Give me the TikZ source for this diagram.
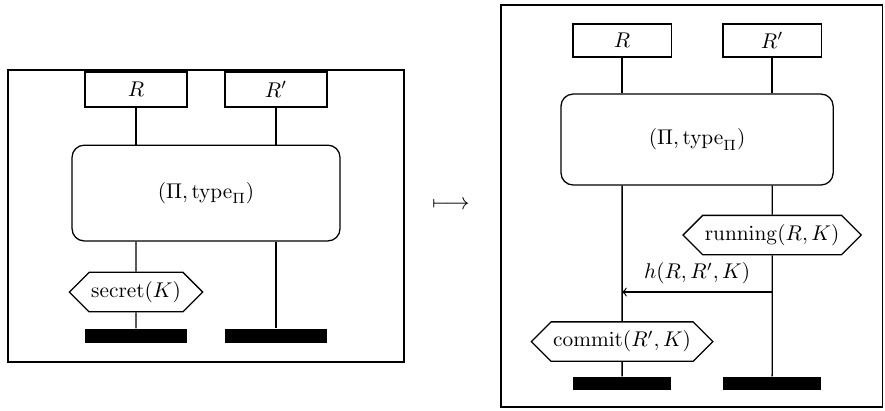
\documentclass[tikz,border=0pt]{standalone}
\usepackage{amsmath,amsfonts}
\usetikzlibrary{positioning, shapes.symbols, arrows}

\begin{document}
\begin{tikzpicture}[semithick,>=to,node distance=1cm]

	\tikzstyle{every node}=[font=\normalsize]

	\tikzstyle{role}=[rectangle,draw,minimum width=1.68cm,minimum height=0.58cm,inner sep=0pt]
	\tikzstyle{protocol}=[rectangle,draw,rounded corners=0.2cm,minimum width=4.42cm,minimum height=1.58cm]
	\tikzstyle{event}=[signal,signal to=west and east,draw,inner xsep=1pt,minimum height=0.65cm]
	\tikzstyle{finish}=[rectangle,fill=black,minimum width=1.68cm,minimum height=0.23cm,inner sep=0pt]

	\useasboundingbox (0,0) rectangle (14.6,-6.765);

	% before
	\draw (0.132,-1.155) rectangle (6.666,-5.973);
	\node[protocol] (P0) at (3.399,-3.185) {$(\Pi,\mathrm{type}_\Pi)$};
	\node[role]     (R0) at (2.244,-1.477) {$R$};
	\node[role]     (R1) at (4.554,-1.477) {$R'$};
	\node[event]    (S0) at (R0 |- 0,-4.818) {$\mathrm{secret}(K)$};
	\node[finish]   (E0) at (R0 |- 0,-5.544) {};
	\node[finish]   (E1) at (R1 |- E0) {};

	\draw (R0) -- (R0 |- P0.north);
	\draw (R1) -- (R1 |- P0.north);
	\draw (R0 |- P0.south) -- (S0);
	\draw (S0) -- (E0);
	\draw (R1 |- P0.south) -- (E1);

	\node[font=\fontsize{11}{13}\selectfont] (M) at (7.44,-3.38) {$\longmapsto$};

	% after
	\draw (8.267,-0.083) rectangle (14.553,-6.716);
	\node[protocol,minimum width=4.49cm,minimum height=1.5cm] (P1) at (11.5,-2.302) {$(\Pi,\mathrm{type}_\Pi)$};
	\node[role,minimum width=1.62cm,minimum height=0.545cm] (R2) at (10.263,-0.668) {$R$};
	\node[role,minimum width=1.62cm,minimum height=0.545cm] (R3) at (12.738,-0.668) {$R'$};
	\node[event]    (S1) at (R3 |- 0,-3.878) {$\mathrm{running}(R,K)$};
	\node[event]    (S2) at (R2 |- 0,-5.635) {$\mathrm{commit}(R',K)$};
	\node[finish,minimum width=1.62cm,minimum height=0.215cm] (E2) at (R2 |- 0,-6.328) {};
	\node[finish,minimum width=1.62cm,minimum height=0.215cm] (E3) at (R3 |- E2) {};

	\coordinate (H1) at (R3 |- 0,-4.818);
	\coordinate (H0) at (R2 |- H1);

	\draw (R2) -- (R2 |- P1.north);
	\draw (R3) -- (R3 |- P1.north);
	\draw (R2 |- P1.south) -- (S2);
	\draw (S2) -- (E2);
	\draw (R3 |- P1.south) -- (S1);
	\draw (S1) -- (E3);
	\draw[->] (H1) -- node[above] {$h(R,R',K)$} (H0);

\end{tikzpicture}
\end{document}
